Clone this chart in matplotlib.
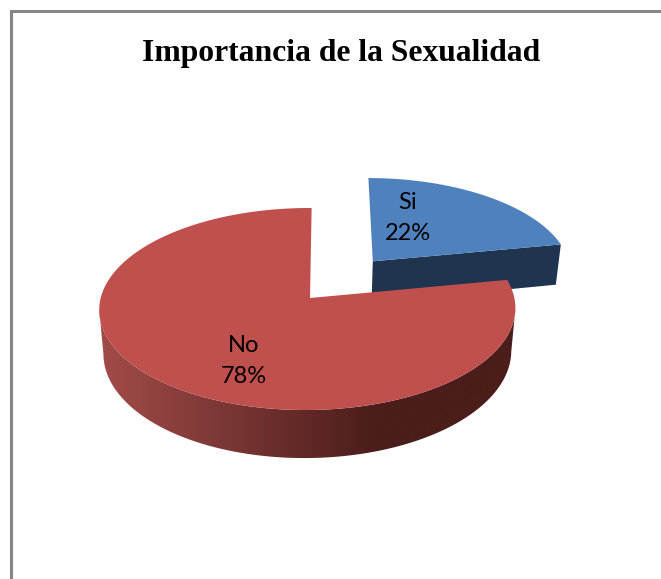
import numpy as np
import matplotlib
matplotlib.use("Agg")
import matplotlib.pyplot as plt
from matplotlib.patches import Polygon
from matplotlib.colors import to_rgb

TITLE = "Importancia de la Sexualidad"
categories = ["Si", "No"]
shares = [22, 78]
explode = [0.497, 0.0]
top_colors = ["#4f81bd", "#c0504d"]
face_colors = ["#1f344f", "#4b1d1b"]
rim_light = "#a24c49"

W, H = 661, 579
X0, Y0, B, K, DEPTH, SHRINK, TILT = 310.0, 298.0, 99.8, 0.109, 42.8, 0.02, 1.8
# width scale and left-right perspective of each slice
slice_A = [204.3, 206.8]
slice_L = [0.0, 0.012]


def project(u, v, z, a, l):
    u, v = np.asarray(u), np.asarray(v)
    w = 1 + K * v + l * u
    x = X0 + (a * u * (1 - SHRINK * z) + TILT * v) / w
    y = Y0 + (-B * v + DEPTH * z) / w
    return x, y


fig = plt.figure(figsize=(W / 100, H / 100), dpi=100, facecolor="white")
ax = fig.add_axes([0, 0, 1, 1])

# chart frame, open at the right and bottom like the cropped original
ax.plot([10.5, 10.5, W + 5], [H + 5, 10.5, 10.5], color="#868686", lw=2.2,
        solid_joinstyle="miter", zorder=1)

angles_deg = 360 * np.array(shares) / sum(shares)
start = 90.0
for i, (cat, share) in enumerate(zip(categories, shares)):
    end = start - angles_deg[i]
    th = np.radians(np.linspace(start, end, 361))
    mid = np.radians((start + end) / 2)
    ou, ov = explode[i] * np.cos(mid), explode[i] * np.sin(mid)
    u, v = ou + np.cos(th), ov + np.sin(th)
    a, l = slice_A[i], slice_L[i]
    z_base = 2 + i * 2

    if explode[i] > 0:
        # straight cut face at the clockwise end of the slice
        ax_, ay_ = project(ou, ov, 0, a, l)
        bx_, by_ = project(u[-1], v[-1], 0, a, l)
        cx_, cy_ = project(u[-1], v[-1], 1, a, l)
        dx_, dy_ = project(ou, ov, 1, a, l)
        ax.fill([ax_, bx_, cx_, dx_], [ay_, by_, cy_, dy_], color=face_colors[i],
                lw=0, zorder=z_base)
    else:
        # curved rim between the two side tangents, shaded from left to right
        keep = np.sin(th) <= -K
        xt, yt = project(u[keep], v[keep], 0, a, l)
        xb, yb = project(u[keep], v[keep], 1, a, l)
        verts = np.c_[np.r_[xt, xb[::-1]], np.r_[yt, yb[::-1]]]
        clip = Polygon(verts, closed=True, transform=ax.transData, fc="none", ec="none")
        ax.add_patch(clip)
        xs = np.arange(W + 1)
        t = np.clip((xs - 100) / 277, 0, 1)[:, None]
        ramp = np.array(to_rgb(rim_light)) * (1 - t) + np.array(to_rgb(face_colors[i])) * t
        im = ax.imshow(ramp[None, :, :], extent=(0, W, H, 0), aspect="auto",
                       interpolation="bilinear", zorder=z_base)
        im.set_clip_path(clip)

    # top face
    px, py = project(np.r_[ou, u], np.r_[ov, v], 0, a, l)
    ax.fill(px, py, color=top_colors[i], lw=0, zorder=z_base + 1)
    start = end

ax.set_xlim(0, W)
ax.set_ylim(H, 0)
ax.axis("off")

label_pos = {"Si": (408, 218), "No": (244, 361)}
for cat, share in zip(categories, shares):
    lx, ly = label_pos[cat]
    ax.text(lx, ly, f"{cat}\n{share}%", ha="center", va="center", fontsize=17,
            family="Lato", color="black", linespacing=1.6, zorder=10)

ax.text(341, 61, TITLE, ha="center", va="baseline", fontsize=22.8, family="Liberation Serif",
        weight="bold", color="black", zorder=10)

fig.savefig("out.png", dpi=100, facecolor="white")
